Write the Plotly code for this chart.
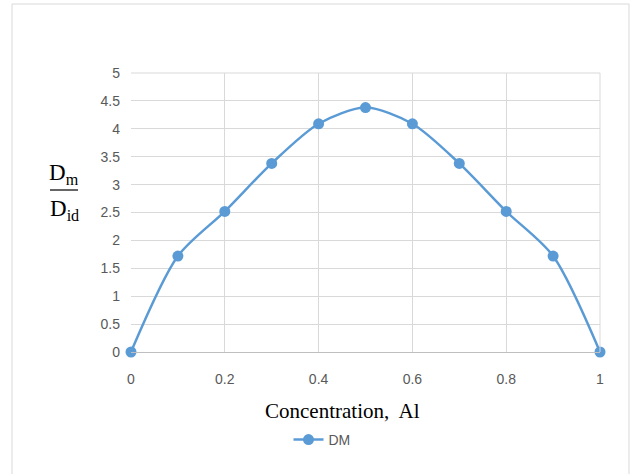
import plotly.graph_objects as go

concentration = [0, 0.1, 0.2, 0.3, 0.4, 0.5, 0.6, 0.7, 0.8, 0.9, 1.0]
dm_values = [0, 1.72, 2.52, 3.38, 4.09, 4.38, 4.09, 3.38, 2.52, 1.72, 0]
x_ticks = [0, 0.2, 0.4, 0.6, 0.8, 1]
x_tick_text = ["0", "0.2", "0.4", "0.6", "0.8", "1"]
y_ticks = [0, 0.5, 1, 1.5, 2, 2.5, 3, 3.5, 4, 4.5, 5]
y_tick_text = ["0", "0.5", "1", "1.5", "2", "2.5", "3", "3.5", "4", "4.5", "5"]

blue = "#5B9BD5"
tickfont = dict(family="Liberation Sans Narrow, Arial Narrow, Liberation Sans", size=14, color="#595959")

fig = go.Figure()
fig.add_trace(go.Scatter(
    x=concentration, y=dm_values, mode="lines+markers", name="DM",
    line=dict(color=blue, width=2.5, shape="spline", smoothing=0.8),
    marker=dict(color=blue, size=11),
    cliponaxis=False,
))

L, R, T, B = 131, 38, 73, 122
W, H = 638, 474
pw, ph = W - L - R, H - T - B

def px(x):
    return (x - L) / pw

def py(y):
    return (H - B - y) / ph

fig.update_layout(
    width=W, height=H,
    margin=dict(l=L, r=R, t=T, b=B),
    paper_bgcolor="white", plot_bgcolor="white",
    showlegend=True,
    legend=dict(orientation="h", x=px(322), xanchor="center", y=py(440), yanchor="middle",
                font=dict(family="Liberation Sans Narrow, Arial Narrow, Liberation Sans", size=14, color="#595959"),
                bgcolor="rgba(0,0,0,0)"),
    xaxis=dict(range=[0, 1], tickvals=x_ticks, ticktext=x_tick_text, showgrid=True,
               gridcolor="#d9d9d9", gridwidth=1, zeroline=False, showline=True,
               linecolor="#bfbfbf", linewidth=1, tickfont=tickfont, ticklabelstandoff=14,
               mirror=False),
    yaxis=dict(range=[0, 5], tickvals=y_ticks, ticktext=y_tick_text, showgrid=True,
               gridcolor="#d9d9d9", gridwidth=1, zeroline=False, showline=False,
               tickfont=tickfont, ticklabelstandoff=10),
    shapes=[
        dict(type="rect", xref="paper", yref="paper",
             x0=px(12), x1=px(629), y0=py(480), y1=py(4),
             line=dict(color="#d9d9d9", width=1), fillcolor="rgba(0,0,0,0)", layer="below"),
        dict(type="line", xref="paper", yref="paper",
             x0=px(50), x1=px(78), y0=py(190), y1=py(190),
             line=dict(color="black", width=1.2)),
        dict(type="line", xref="paper", yref="paper",
             x0=1, x1=1, y0=0, y1=1, line=dict(color="#d9d9d9", width=1)),
        dict(type="line", xref="paper", yref="paper",
             x0=0, x1=1, y0=1, y1=1, line=dict(color="#d9d9d9", width=1)),
    ],
    annotations=[
        dict(text="D<sub>m</sub>", xref="paper", yref="paper", x=px(64), y=py(174),
             xanchor="center", yanchor="middle", showarrow=False,
             font=dict(family="Liberation Serif, Times New Roman", size=23, color="black")),
        dict(text="D<sub>id</sub>", xref="paper", yref="paper", x=px(64), y=py(210),
             xanchor="center", yanchor="middle", showarrow=False,
             font=dict(family="Liberation Serif, Times New Roman", size=23, color="black")),
        dict(text="Concentration,  Al", xref="paper", yref="paper", x=px(342), y=py(411),
             xanchor="center", yanchor="middle", showarrow=False,
             font=dict(family="Liberation Serif, Times New Roman", size=21, color="black")),
    ],
)

fig.write_html("out.html")
